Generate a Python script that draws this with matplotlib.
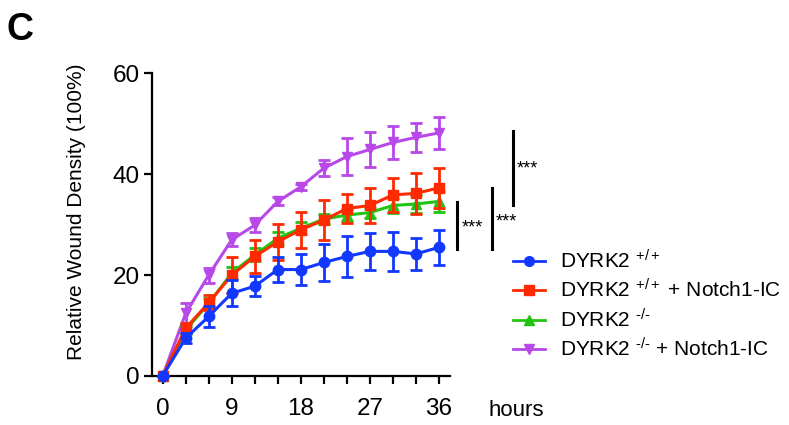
import numpy as np
import matplotlib
matplotlib.use("Agg")
import matplotlib.pyplot as plt
from matplotlib.lines import Line2D

plt.rcParams['font.family'] = ['Liberation Sans', 'DejaVu Sans']
plt.rcParams['mathtext.fontset'] = 'custom'
plt.rcParams['mathtext.rm'] = 'Liberation Sans'
plt.rcParams['mathtext.it'] = 'Liberation Sans'

hours = [0, 3, 6, 9, 12, 15, 18, 21, 24, 27, 30, 33, 36]

wt = [0, 7.5, 11.8, 16.4, 17.8, 21.1, 21.1, 22.5, 23.7, 24.7, 24.7, 24.2, 25.5]
wt_err = [0, 1.0, 2.0, 2.6, 2.0, 2.5, 3.1, 3.7, 4.0, 3.7, 3.8, 3.1, 3.4]

wt_n = [0, 9.5, 14.5, 20.0, 23.7, 26.6, 29.0, 30.9, 33.2, 33.8, 35.9, 36.2, 37.3]
wt_n_err = [0, 1.0, 1.5, 3.5, 3.3, 3.6, 3.6, 4.0, 2.8, 3.4, 3.4, 4.0, 3.9]

ko = [0, 9.1, 14.4, 20.4, 24.0, 27.3, 29.3, 31.1, 31.9, 32.4, 33.8, 34.1, 34.6]
ko_err = [0, 0.8, 1.0, 1.2, 1.3, 1.3, 1.2, 1.0, 1.2, 1.0, 1.5, 1.8, 2.0]

ko_n = [0, 12.4, 20.0, 27.0, 29.9, 34.6, 37.5, 41.2, 43.5, 44.9, 46.3, 47.3, 48.2]
ko_n_err = [0, 2.0, 1.5, 1.3, 1.4, 0.8, 0.6, 1.6, 3.6, 3.5, 3.2, 2.8, 3.2]

labels = [r'DYRK2 $^{+/+}$',
          r'DYRK2 $^{+/+}$ + Notch1-IC',
          r'DYRK2 $^{\text{-/-}}$',
          r'DYRK2 $^{\text{-/-}}$ + Notch1-IC']
colors = ['#1238ff', '#ff2a00', '#22c412', '#b848e8']
markers = ['o', 's', '^', 'v']

# significance brackets: x, y bottom, y top, label y
sig_x = [38.4, 42.9, 45.6]
sig_lo = [25.1, 25.1, 33.9]
sig_hi = [34.5, 37.3, 48.6]
sig_ty = [29.4, 30.6, 41.0]

fig = plt.figure(figsize=(7.89, 4.25), dpi=100)
ax = fig.add_axes([0.193, 0.1153, 0.377, 0.7122])

series = [(wt, wt_err), (wt_n, wt_n_err), (ko, ko_err), (ko_n, ko_n_err)]
for i in [3, 2, 1, 0]:
    y, e = series[i]
    ax.errorbar(hours, y, yerr=e, color=colors[i], marker=markers[i],
                markersize=7.5, lw=2.2, elinewidth=2, capsize=4, capthick=2,
                clip_on=False, zorder=3 + (3 - i))

for x, lo, hi, ty in zip(sig_x, sig_lo, sig_hi, sig_ty):
    ax.plot([x, x], [lo, hi], color='black', lw=2.2, clip_on=False)
    ax.text(x + 0.5, ty, '***', fontsize=13, va='center', ha='left',
            clip_on=False)

ax.set_xlim(-1.35, 37.4)
ax.set_ylim(0, 60)
ax.set_xticks(np.arange(0, 37, 9))
ax.set_xticks(hours, minor=True)
ax.set_yticks([0, 20, 40, 60])
for s in ['top', 'right']:
    ax.spines[s].set_visible(False)
for s in ['left', 'bottom']:
    ax.spines[s].set_linewidth(1.6)
ax.tick_params(axis='both', which='both', width=1.6, length=6,
               labelsize=17.5, color='black')
ax.tick_params(axis='x', which='both', pad=10)
ax.tick_params(axis='y', pad=3)

fig.text(77 / 789, 1 - 212 / 425, 'Relative Wound Density (100%)',
         rotation=90, fontsize=15, ha='center', va='center')
fig.text(489 / 789, 1 - 410 / 425, 'hours', fontsize=16, ha='left',
         va='center')
fig.text(7 / 789, 1 - 30 / 425, 'C', fontsize=27, fontweight='bold',
         ha='left', va='center')

handles = [Line2D([0], [0], color=colors[i], marker=markers[i], lw=2,
                  markersize=7) for i in range(4)]
fig.legend(handles, labels, loc='upper left',
           bbox_to_anchor=(513 / 789, 1 - 249 / 425),
           bbox_transform=fig.transFigure, frameon=False, fontsize=15,
           handlelength=1.55, handletextpad=0.7, labelspacing=0.3,
           borderpad=0, borderaxespad=0, numpoints=1)

fig.savefig('out.png', dpi=100)
